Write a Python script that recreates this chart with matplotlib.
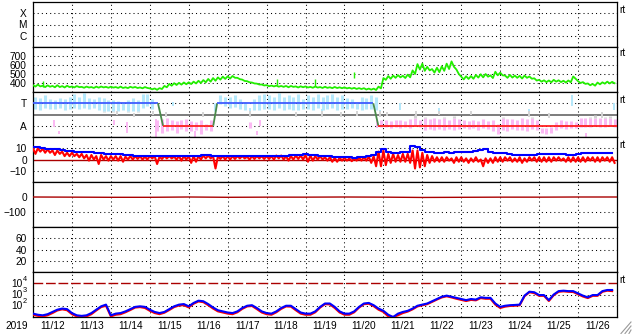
import numpy as np
import matplotlib
matplotlib.use('Agg')
import matplotlib.pyplot as plt
from matplotlib.lines import Line2D

plt.rcParams['font.family'] = ['Liberation Sans', 'DejaVu Sans']

# ---------------- data (3-hour bins starting 2019-11-12 00:00) ----------------
day_labels = ['11/12', '11/13', '11/14', '11/15', '11/16', '11/17', '11/18', '11/19',
              '11/20', '11/21', '11/22', '11/23', '11/24', '11/25', '11/26']
year_label = '2019'

speed = [368, 372, 362, 366, 360, 365, 358, 362,
         356, 360, 352, 355, 350, 354, 356, 352,
         354, 350, 352, 348, 353, 350, 346, 350,
         335, 332, 338, 360, 380, 388, 392, 396,
         398, 405, 412, 420, 430, 440, 450, 458,
         462, 468, 450, 430, 414, 400, 388, 378,
         370, 367, 365, 362, 360, 362, 356, 358,
         356, 352, 355, 350, 352, 348, 350, 347,
         346, 342, 340, 338, 335, 332, 330, 350,
         445, 462, 470, 475, 468, 478, 520, 580,
         575, 560, 535, 545, 560, 585, 610, 525,
         455, 460, 462, 475, 480, 485, 470, 505,
         500, 470, 475, 470, 465, 470, 460, 440,
         425, 420, 418, 425, 420, 415, 418, 460,
         410, 400, 385, 380, 395, 400, 405, 405]
speed_spread = [15, 20, 15, 15, 15, 20, 15, 15,
                10, 12, 10, 10, 10, 12, 10, 10,
                10, 10, 15, 10, 10, 12, 10, 10,
                10, 15, 10, 15, 20, 20, 20, 20,
                20, 20, 25, 25, 30, 30, 25, 25,
                25, 20, 15, 15, 12, 10, 10, 10,
                12, 10, 12, 10, 15, 10, 12, 10,
                12, 10, 12, 10, 12, 10, 12, 10,
                12, 10, 12, 10, 15, 12, 15, 20,
                20, 30, 25, 25, 25, 30, 40, 60,
                80, 40, 40, 50, 50, 60, 60, 50,
                30, 30, 30, 30, 35, 30, 30, 40,
                30, 25, 30, 25, 30, 25, 25, 25,
                20, 20, 20, 20, 20, 20, 20, 25,
                20, 20, 20, 20, 20, 15, 20, 15]
speed_spike_day = [0.26, 6.27, 7.25, 8.25]
speed_spike_val = [425, 445, 440, 525]

bt = [11.5, 11, 10, 9.5, 9, 9, 8.5, 8,
      7.5, 7, 7, 7, 6.5, 6, 5.5, 5,
      5, 4.5, 4.5, 4, 4, 3.5, 3.5, 3.5,
      3.5, 3.5, 3, 3, 3.5, 3.5, 3.5, 3.5,
      3.5, 3.5, 3.5, 4, 4, 3.5, 3.5, 3.5,
      3.5, 3.5, 3.5, 3.5, 3.5, 3, 3.5, 3.5,
      3.5, 3.5, 3.5, 3.5, 3.5, 4, 4, 4,
      4.5, 4, 4, 3.5, 3.5, 3, 2.5, 2.5,
      2, 2, 1.5, 2, 2.5, 3, 4, 7,
      9.5, 7, 6, 6, 6.5, 7, 12, 11,
      8.5, 7, 6.5, 6, 6, 6.5, 6, 6.5,
      7, 7, 7, 7.5, 8.5, 9, 7, 6,
      6, 5.5, 4.5, 4, 4, 4, 4, 4,
      4.5, 4.5, 5, 5, 5, 4.5, 4, 4,
      5, 5.5, 5.5, 5.5, 5.5, 6, 6, 5.5]

bz_hi = [10, 10, 9.5, 9, 8, 8, 7, 6,
         6, 5, 5, 4, 4, 3, 4, 3,
         3, 3, 3, 2.5, 3, 3, 3, 2.5,
         3, 3, 2.5, 3, 3, 2.5, 3, 3,
         3, 3, 3, 3.5, 3.5, 3, 3, 3,
         3, 3, 3, 3, 2.5, 3, 3, 3,
         3, 3, 3.5, 3.5, 3, 3, 3.5, 3.5,
         4, 3.5, 3, 3, 2, 2, 1.5, 1.5,
         1.5, 1, 1, 1.5, 2, 2.5, 3, 7,
         8, 5, 5, 4, 5, 5, 8, 8,
         6, 4, 3, 2, 2, 2, 1, 2,
         2, 1, 1, 2, 0, 1, 1, 2,
         2, 2, 2, 1, 2, 1, 2, 2,
         2, 2, 2, 2, 2, 1, 2, 2,
         2, 2, 2, 2, 2, 2, 2, 2]
bz_lo = [5, 7, 6, 6, 4, 5, 3, 3,
         3, 2, 1, -1, 0, -4, 0, -1,
         0, -1, -2, 0, 0, 0.5, 0, 0,
         1, -4, 0.5, 1, 1, 0, -1, 0,
         -3, -2, 0, 1, 1, -8, 0.5, 0,
         0, 0.5, 1, 1, 0, 0.5, 1, 0.5,
         0.5, 0, 1, 0, -1, 0, 0.5, 0,
         -2, -1, 0, 0, -1, -2, -2, -1,
         -1, -1.5, -1, -1, -1, -3, -6, -6,
         -5, -3, -2, -2, -2, -3, -8, -7,
         -6, -3, -2, -2, -2, -1, -3, -2,
         -2, -3, -2, -2, -6, -3, -3, -2,
         -2, -1, -2, -2, -3, -2, -1, -2,
         -2, -2, -2, -1, -1, -2, -2, -2,
         -2, -2, -1, -2, -2, -1, -2, -3]

dst = [0, -1, -2, -2, 0, -2, -1, -1, 0, -1, -3, -2, -1, -1, 0, 0]

# IMF sector (panel units: A=1, T=3)
phi_lo = [2.5, 2.4, 2.6, 2.5, 2.5, 2.6, 2.4, 2.5,
          2.6, 2.5, 2.6, 2.5, 2.6, 2.4, 2.2, 2.3,
          2.2, 2.3, 2.4, 2.2, 2.3, 2.2, 2.6, 2.8,
          2.5, 0.5, 0.4, 0.5, 0.6, 0.4, 0.7, 0.5,
          0.5, 0.6, 0.3, 0.6, 0.5, 2.3, 2.9, 2.8,
          2.6, 2.7, 2.5, 2.4, 0.8, 2.4, 2.4, 2.5,
          2.5, 2.4, 2.6, 2.4, 2.5, 2.4, 2.4, 2.5,
          2.5, 2.4, 2.6, 2.4, 2.5, 2.6, 2.4, 2.5,
          2.5, 2.6, 2.5, 2.4, 2.5, 2.5, 2.4, 0.9,
          0.9, 0.8, 0.9, 0.8, 0.9, 0.8, 1.0, 0.9,
          0.6, 0.7, 0.6, 0.7, 0.6, 0.7, 0.6, 0.7,
          0.8, 0.7, 0.8, 0.6, 0.8, 0.7, 0.5, 0.3,
          0.6, 0.5, 0.7, 0.6, 0.6, 0.5, 0.7, 0.6,
          0.4, 0.3, 0.4, 0.6, 0.8, 0.7, 0.8, 0.8,
          0.9, 0.9, 0.9, 1.0, 0.9, 0.9, 1.0, 0.9]
phi_hi = [3.6, 3.5, 3.7, 3.4, 3.3, 3.5, 3.4, 3.6,
          3.8, 3.6, 3.9, 3.5, 3.4, 3.6, 3.5, 3.3,
          3.3, 3.2, 3.0, 3.3, 3.5, 3.3, 3.8, 3.8,
          3.4, 1.5, 1.6, 1.7, 1.5, 1.4, 1.5, 1.6,
          1.4, 1.3, 1.5, 1.2, 1.5, 3.0, 3.7, 3.6,
          3.6, 3.7, 3.4, 3.1, 1.3, 3.4, 3.7, 3.8,
          3.7, 3.6, 3.9, 3.6, 3.7, 3.6, 3.8, 3.4,
          3.7, 3.6, 3.8, 3.6, 3.7, 3.8, 3.6, 3.7,
          3.5, 3.4, 3.0, 3.6, 3.5, 3.7, 3.6, 1.5,
          1.5, 1.4, 1.5, 1.5, 1.4, 1.6, 2.0, 1.5,
          1.8, 1.6, 1.7, 1.6, 1.8, 1.5, 1.9, 1.6,
          1.5, 1.4, 1.5, 1.4, 1.6, 1.4, 1.5, 1.2,
          1.8, 1.6, 1.6, 1.5, 1.7, 1.6, 1.8, 1.5,
          0.8, 0.8, 0.9, 1.3, 1.5, 1.4, 1.4, 1.3,
          1.7, 1.7, 1.8, 2.0, 1.7, 1.8, 1.9, 1.6]
# sparse outlying points: hour from start, low, high
out_hour = [13, 16, 50, 52, 58, 62, 74, 76, 82, 86, 100, 105, 134, 138, 140, 162,
            178, 190, 200, 212, 214, 218, 226, 236, 250, 270, 306, 318, 332, 341, 351, 358]
out_lo = [0.9, 0.3, 1.1, 2.0, 0.4, 1.8, 2.0, 0.0, 1.8, 2.8, 0.0, 1.8, 1.8, 0.2, 1.0, 1.8,
          1.8, 1.8, 1.9, 0.8, 1.8, 1.9, 2.4, 1.9, 2.0, 2.0, 1.8, 1.7, 2.8, 0.0, 1.7, 2.4]
out_hi = [1.5, 0.5, 1.5, 2.3, 1.3, 2.1, 2.3, 1.6, 2.2, 3.1, 0.5, 2.2, 2.6, 0.5, 1.5, 2.2,
          2.5, 2.2, 2.3, 1.5, 2.4, 2.2, 3.0, 2.3, 2.6, 2.3, 2.5, 2.1, 3.7, 0.4, 2.2, 3.0]
# sector state line: day, level
sector_day = [0, 3.21, 3.34, 4.63, 4.73, 8.74, 8.87, 15]
sector_lvl = [3, 3, 1, 1, 3, 3, 1, 1]

# electron flux, log10
e_blue = [1.30, 1.20, 1.15, 1.25, 1.45, 1.65, 1.75, 1.70,
          1.35, 1.15, 1.10, 1.15, 1.35, 1.65, 1.95, 2.10,
          1.15, 1.30, 1.35, 1.50, 1.70, 1.90, 1.95, 1.90,
          1.65, 1.45, 1.35, 1.45, 1.70, 1.95, 2.10, 2.15,
          1.95, 2.25, 2.45, 2.40, 2.15, 1.85, 1.60, 1.50,
          1.40, 1.35, 1.50, 1.80, 2.00, 2.05, 1.80, 1.50,
          1.35, 1.30, 1.50, 1.80, 2.00, 2.00, 1.70, 1.40,
          1.30, 1.30, 1.50, 1.90, 2.20, 2.20, 1.90, 1.50,
          1.30, 1.30, 1.50, 1.90, 2.20, 2.25, 2.05, 1.75,
          1.55, 1.20, 1.00, 1.30, 1.45, 1.55, 1.75, 2.00,
          2.10, 2.20, 2.40, 2.60, 2.80, 2.90, 2.80, 2.70,
          2.60, 2.50, 2.60, 2.55, 2.75, 2.70, 2.70, 2.20,
          1.90, 2.00, 2.05, 2.07, 2.10, 2.90, 3.25, 3.20,
          2.95, 2.95, 2.50, 3.00, 3.30, 3.34, 3.30, 3.30,
          3.10, 2.90, 2.75, 2.95, 2.95, 3.30, 3.40, 3.40]
e_red = [1.20, 1.10, 1.05, 1.15, 1.35, 1.58, 1.68, 1.60,
         1.25, 1.05, 1.02, 1.05, 1.25, 1.58, 1.88, 2.00,
         1.05, 1.20, 1.25, 1.42, 1.62, 1.84, 1.88, 1.80,
         1.55, 1.35, 1.25, 1.38, 1.62, 1.88, 2.02, 2.05,
         1.85, 2.18, 2.38, 2.32, 2.05, 1.75, 1.50, 1.40,
         1.30, 1.25, 1.42, 1.72, 1.94, 1.98, 1.70, 1.40,
         1.25, 1.20, 1.42, 1.72, 1.94, 1.92, 1.60, 1.30,
         1.20, 1.20, 1.42, 1.84, 2.14, 2.12, 1.80, 1.40,
         1.20, 1.20, 1.42, 1.84, 2.14, 2.18, 1.96, 1.65,
         1.45, 1.05, 1.00, 1.15, 1.35, 1.48, 1.68, 1.94,
         2.04, 2.14, 2.34, 2.55, 2.74, 2.84, 2.74, 2.62,
         2.52, 2.42, 2.52, 2.48, 2.68, 2.62, 2.62, 2.10,
         1.80, 1.92, 1.98, 2.00, 2.04, 2.85, 3.20, 3.12,
         2.88, 2.88, 2.42, 2.94, 3.24, 3.28, 3.24, 3.22,
         3.02, 2.82, 2.68, 2.88, 2.88, 3.24, 3.34, 3.30]

# ---------------- figure ----------------
W, H = 633, 334
fig = plt.figure(figsize=(W / 100, H / 100), dpi=100)
L, R = 33, 617
tops = [2, 47, 92, 137, 182, 227, 272]
PH = 45
axs = []
for t in tops:
    ax = fig.add_axes([L / W, 1 - (t + PH) / H, (R - L) / W, PH / H])
    axs.append(ax)

ndays = len(day_labels)
t3 = np.arange(len(speed)) * 3 / 24.0
half = 1.5 / 24.0
dots = (0, (1, 3))
FS = 7.3

for ax in axs:
    ax.set_xlim(0, ndays)
    for s in ax.spines.values():
        s.set_linewidth(0.9)
        s.set_color('black')
    ax.tick_params(length=0, labelsize=FS, pad=4.5)
    ax.set_xticks([])
    for d in range(1, ndays):
        ax.axvline(d, color='black', lw=0.75, ls=dots, zorder=1)


def hgrid(ax, vals):
    for v in vals:
        ax.axhline(v, color='black', lw=0.75, ls=dots, zorder=1)


def rt(ax, yval):
    ax.annotate('rt', xy=(1, yval), xycoords=('axes fraction', 'data'),
                xytext=(2, 2), textcoords='offset points', fontsize=FS,
                ha='left', va='center', annotation_clip=False)


def zigzag(hi, lo):
    xs, ys = [], []
    for i in range(len(hi)):
        xs += [t3[i], t3[i] + half]
        ys += [hi[i], lo[i]]
    return xs, ys


# panel 1: X-ray class
ax = axs[0]
ax.set_yscale('log')
ax.set_ylim(1e-7, 1e-3)
ax.set_yticks([1e-4, 1e-5, 1e-6])
ax.set_yticklabels(['X', 'M', 'C'])
ax.minorticks_off()
hgrid(ax, [1e-4, 1e-5, 1e-6])
rt(ax, 1e-4)

# panel 2: solar wind speed
ax = axs[1]
ax.set_ylim(300, 800)
ax.set_yticks([400, 500, 600, 700])
hgrid(ax, [400, 500, 600, 700])
s_hi = [v + s / 2 for v, s in zip(speed, speed_spread)]
s_lo = [v - s / 2 for v, s in zip(speed, speed_spread)]
xs, ys = zigzag(s_hi, s_lo)
ax.plot(xs, ys, color='#22ee00', lw=1.3, zorder=3)
ax.vlines(speed_spike_day, [v - 70 for v in speed_spike_val], speed_spike_val,
          color='#22ee00', lw=1.0, zorder=3)
rt(ax, 700)

# panel 3: sector
ax = axs[2]
ax.set_ylim(0, 4)
ax.set_yticks([3, 1])
ax.set_yticklabels(['T', 'A'])
hgrid(ax, [3, 1])
ax.axhline(2, color='#666666', lw=1.2, zorder=2)
C_T, C_A, C_G = '#b4e8fb', '#fbb8f3', '#d4d4d4'


def colored_seg(ax, x, lo, hi, lw):
    bands = [(-10, 1.7, C_A), (1.7, 2.3, C_G), (2.3, 10, C_T)]
    for b0, b1, c in bands:
        a, b = max(lo, b0), min(hi, b1)
        if b > a:
            ax.vlines(x, a, b, color=c, lw=lw, zorder=2)


for i in range(len(phi_lo)):
    colored_seg(ax, t3[i] + half, phi_lo[i], phi_hi[i], 2.2)
for h, lo, hi in zip(out_hour, out_lo, out_hi):
    colored_seg(ax, h / 24.0, lo, hi, 1.4)
for i in range(len(sector_day) - 1):
    x0, x1 = sector_day[i], sector_day[i + 1]
    y0, y1 = sector_lvl[i], sector_lvl[i + 1]
    if y0 == y1:
        c = '#3f5cff' if y0 == 3 else '#ff2020'
    else:
        c = '#4a8a4a'
    ax.plot([x0, x1], [y0, y1], color=c, lw=1.3, zorder=4, solid_capstyle='butt')
rt(ax, 3)

# panel 4: IMF
ax = axs[3]
ax.set_ylim(-20, 20)
ax.set_yticks([10, 0, -10])
hgrid(ax, [10, -10])
ax.axhline(0, color='#aa0000', lw=1.0, zorder=2)
xs, ys = zigzag(bz_hi, bz_lo)
ax.plot(xs, ys, color='#ff0000', lw=1.5, zorder=3)
ax.step(t3, bt, where='mid', color='#0000ff', lw=1.5, zorder=4)
rt(ax, 10)

# panel 5: Dst
ax = axs[4]
ax.set_ylim(-200, 100)
ax.set_yticks([0, -100])
hgrid(ax, [-100])
ax.plot(np.arange(len(dst)), dst, color='#aa0000', lw=1.0, zorder=3)

# panel 6
ax = axs[5]
ax.set_ylim(0, 80)
ax.set_yticks([60, 40, 20])
hgrid(ax, [60, 40, 20])

# panel 7: electron flux
ax = axs[6]
ax.set_yscale('log')
ax.set_ylim(1e1, 1e5)
ax.set_yticks([])
ax.minorticks_off()
for e in [4, 3, 2]:
    ax.annotate('10', xy=(0, 10.0 ** e), xycoords=('axes fraction', 'data'),
                xytext=(-7.6, -0.3), textcoords='offset points', fontsize=FS,
                ha='right', va='center', annotation_clip=False)
    ax.annotate(str(e), xy=(0, 10.0 ** e), xycoords=('axes fraction', 'data'),
                xytext=(-7.3, 3.0), textcoords='offset points', fontsize=5.3,
                ha='left', va='center', annotation_clip=False)
hgrid(ax, [1e3, 1e2])
ax.axhline(1e4, color='#aa0000', lw=1.0, ls=(0, (7, 2)), zorder=2)
ax.plot(t3, 10 ** np.array(e_red), color='#ff0000', lw=1.5, zorder=3)
ax.plot(t3, 10 ** np.array(e_blue), color='#0000ff', lw=1.5, zorder=4)
rt(ax, 1e4)

# x labels at noon of each day
ax.set_xticks(np.arange(ndays) + 0.5)
ax.set_xticklabels(day_labels)
ax.tick_params(axis='x', length=0, pad=3, labelsize=FS)
fig.text(5 / W, 1 - 326 / H, year_label, fontsize=FS, ha='left', va='center')

# size grip at bottom-right
for k in range(3):
    fig.add_artist(Line2D([(W - 2) / W, (W - 12 + 4 * k) / W],
                          [1 - (322 + 4 * k) / H, 1 - (H - 0.5) / H],
                          transform=fig.transFigure, color='#999999', lw=0.8))

fig.savefig('out.png', dpi=100)
